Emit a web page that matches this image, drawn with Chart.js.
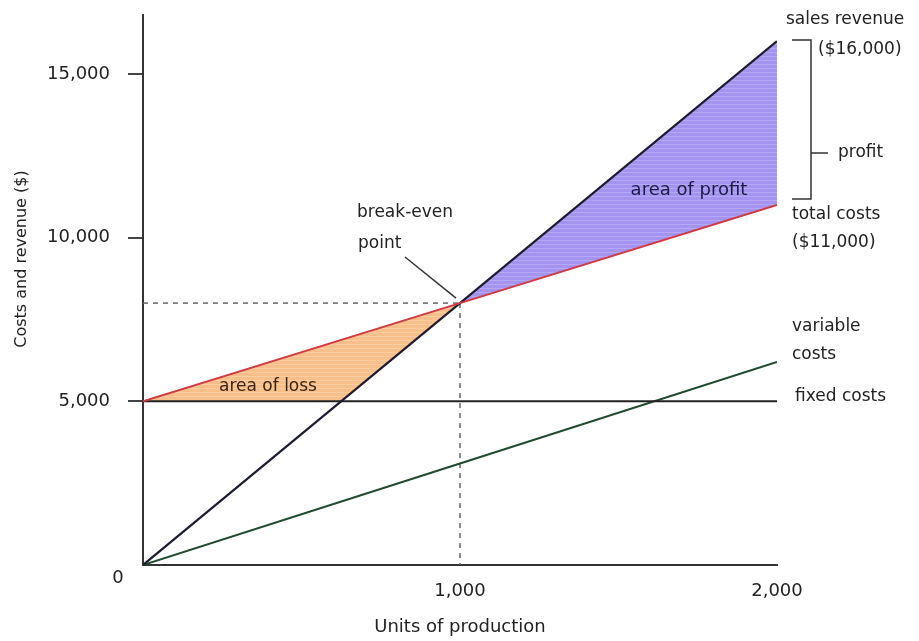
<!DOCTYPE html>
<html>
<head>
<meta charset="utf-8">
<script src="https://cdn.jsdelivr.net/npm/chart.js@4.4.0/dist/chart.umd.min.js"></script>
<style>
  html, body { margin: 0; padding: 0; background: #fff; }
  #wrap { width: 919px; height: 641px; }
</style>
</head>
<body>
<div id="wrap"><canvas id="grafico" width="919" height="641"></canvas></div>
<script>
// datos del gráfico de punto de equilibrio
const units = [0, 1000, 2000];
const salesRevenue = [0, 8000, 16000];
const totalCosts = [5000, 8000, 11000];
const fixedCosts = [5000, 5000, 5000];
const variableCosts = [0, 3100, 6200];
// borde inferior del área de pérdida (máx. de costos fijos e ingresos)
const lossUnits = [0, 625, 1000];
const lossFloor = [5000, 5000, 8000];
const breakEven = { units: 1000, value: 8000 };
const xTicks = [0, 1000, 2000];
const yTicks = [0, 5000, 10000, 15000];

const FONT = '"DejaVu Sans", sans-serif';

function pts(xs, ys) {
    return xs.map((x, i) => ({ x: x, y: ys[i] }));
}

// patrón rayado para las áreas
function makePattern(base, stripe) {
    const c = document.createElement('canvas');
    c.width = 6; c.height = 4;
    const g = c.getContext('2d');
    g.fillStyle = base;
    g.fillRect(0, 0, 6, 4);
    g.fillStyle = stripe;
    g.fillRect(0, 0, 6, 1);
    return g.createPattern(c, 'repeat');
}

const purple = makePattern('#a494f0', '#b5a8f4');
const orange = makePattern('#f7c08a', '#f9cda0');
const none = 'rgba(0,0,0,0)';

// textos y anotaciones
const labelsPlugin = {
    id: 'etiquetas',
    afterDraw(chart) {
        const c = chart.ctx;
        const xs = chart.scales.x, ys = chart.scales.y;
        c.save();
        c.fillStyle = '#222';
        c.textBaseline = 'middle';

        function txt(s, x, y, size, align, color) {
            c.font = size + 'px ' + FONT;
            c.textAlign = align || 'left';
            c.fillStyle = color || '#222';
            c.fillText(s, x, y);
        }

        txt('sales revenue', 786, 20, 17);
        txt('($16,000)', 818, 50, 17);
        txt('profit', 838, 153, 17);
        txt('total costs', 792, 215, 17);
        txt('($11,000)', 792, 243, 17);
        txt('variable', 792, 327, 17);
        txt('costs', 792, 355, 17);
        txt('fixed costs', 795, 397, 17);
        txt('break-even', 357, 213, 17);
        txt('point', 358, 244, 17);
        txt('area of profit', 689, 190, 18, 'center', '#1b1b45');
        txt('area of loss', 268, 387, 17, 'center', '#3a2410');
        txt('0', 118, 578, 18, 'center');
        txt('Units of production', 460, 627, 18, 'center');

        c.save();
        c.translate(22, 259);
        c.rotate(-Math.PI / 2);
        txt('Costs and revenue ($)', 0, 0, 16, 'center');
        c.restore();

        // corchete del beneficio
        c.strokeStyle = '#333';
        c.lineWidth = 1.5;
        c.beginPath();
        c.moveTo(792, 40); c.lineTo(811, 40); c.lineTo(811, 199); c.lineTo(792, 199);
        c.moveTo(811, 153); c.lineTo(828, 153);
        c.stroke();

        // línea indicadora del punto de equilibrio
        const bx = xs.getPixelForValue(breakEven.units);
        const by = ys.getPixelForValue(breakEven.value);
        c.beginPath();
        c.moveTo(405, 257);
        c.lineTo(bx - 4, by - 5);
        c.stroke();
        c.restore();
    }
};

const ctx = document.getElementById('grafico').getContext('2d');
new Chart(ctx, {
    type: 'line',
    data: {
        datasets: [
            { label: 'total costs', data: pts(units, totalCosts), borderColor: '#d23a3f', borderWidth: 2, fill: false },
            { label: 'sales revenue', data: pts(units, salesRevenue), borderColor: '#1b1b33', borderWidth: 2.2,
              fill: { target: 0, above: purple, below: none } },
            { label: 'loss', data: pts(lossUnits, lossFloor), borderWidth: 0, borderColor: none,
              fill: { target: 0, above: none, below: orange } },
            { label: 'fixed costs', data: pts(units, fixedCosts), borderColor: '#222', borderWidth: 2, fill: false },
            { label: 'variable costs', data: pts(units, variableCosts), borderColor: '#1f4a2c', borderWidth: 2, fill: false },
            { label: 'be-h', data: pts([0, breakEven.units], [breakEven.value, breakEven.value]),
              borderColor: '#666', borderWidth: 1.5, borderDash: [5, 5], fill: false },
            { label: 'be-v', data: pts([breakEven.units, breakEven.units], [breakEven.value, 0]),
              borderColor: '#666', borderWidth: 1.5, borderDash: [5, 5], fill: false }
        ]
    },
    options: {
        responsive: false,
        animation: false,
        layout: { padding: { top: 15, right: 142, left: 0, bottom: 0 } },
        elements: { point: { radius: 0 }, line: { tension: 0 } },
        plugins: {
            legend: { display: false },
            tooltip: { enabled: false },
            filler: { drawTime: 'beforeDatasetsDraw' }
        },
        scales: {
            x: {
                type: 'linear',
                min: 0,
                max: 2000,
                afterBuildTicks: s => { s.ticks = xTicks.map(v => ({ value: v })); },
                afterFit: s => { s.height = 76; s.paddingLeft = 0; s.paddingRight = 0; },
                grid: { drawOnChartArea: false, drawTicks: false },
                border: { display: true, color: '#333', width: 2 },
                ticks: {
                    padding: 16,
                    color: '#222',
                    font: { family: FONT, size: 18 },
                    callback: v => v === 0 ? '' : v.toLocaleString('en-US')
                }
            },
            y: {
                min: 0,
                max: 16800,
                afterBuildTicks: s => { s.ticks = yTicks.map(v => ({ value: v })); },
                afterFit: s => { s.width = 143; s.paddingTop = 0; s.paddingBottom = 0; },
                grid: {
                    drawOnChartArea: false,
                    tickLength: 15,
                    lineWidth: 2,
                    color: c => c.tick && c.tick.value === 0 ? none : '#444'
                },
                border: { display: true, color: '#333', width: 2 },
                ticks: {
                    padding: 18,
                    color: '#222',
                    font: { family: FONT, size: 18 },
                    callback: v => v === 0 ? '' : v.toLocaleString('en-US')
                }
            }
        }
    },
    plugins: [labelsPlugin]
});
</script>
</body>
</html>
